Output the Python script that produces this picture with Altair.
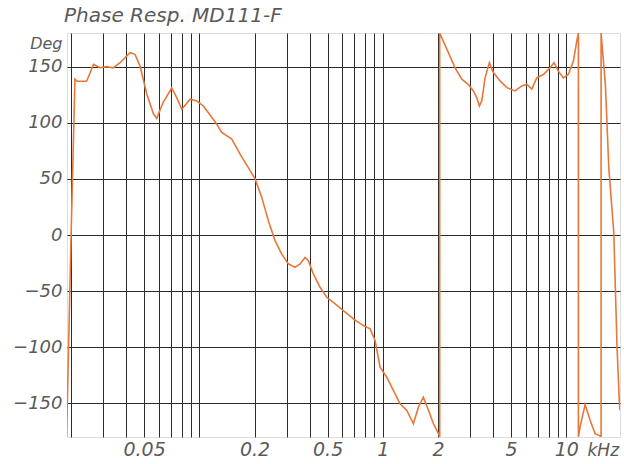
import altair as alt
import pandas as pd

# Phase response of the MD111-F, frequency in kHz, phase in degrees.
# Points are listed in drawing order so the ±180° wraps draw as vertical jumps.
freq_khz = [
    0.0189, 0.0200, 0.0210, 0.0216, 0.0243, 0.0265, 0.0288, 0.0313, 0.0339, 0.0370,
    0.0419, 0.0446, 0.0475, 0.0517, 0.0562, 0.0586, 0.0634, 0.0707, 0.0753, 0.0802,
    0.0890, 0.0968, 0.1052, 0.1218, 0.1325, 0.1502, 0.1667, 0.1849, 0.2012, 0.2189,
    0.2377, 0.2585, 0.2812, 0.3055, 0.3323, 0.3538, 0.3767, 0.3926, 0.4181, 0.4548,
    0.4947, 0.5373, 0.6093, 0.6909, 0.7834, 0.8520, 0.9071, 0.9654, 1.050, 1.141,
    1.241, 1.350, 1.467, 1.562, 1.662, 1.770, 1.885, 2.007, 2.040, 2.040,
    2.275, 2.475, 2.692, 2.924, 3.113, 3.249, 3.357, 3.459, 3.606, 3.806,
    4.002, 4.352, 4.734, 5.254, 5.714, 6.084, 6.478, 6.898, 7.494, 8.152,
    8.570, 9.045, 9.632, 10.25, 10.92, 11.40, 11.63, 11.63, 11.88, 12.65,
    13.47, 14.33, 15.27, 15.46, 15.46, 16.32, 17.03, 18.13, 18.89, 19.45,
    19.60,
]
phase_deg = [
    -180, 0, 139, 137, 137, 152, 149, 150, 149, 153.5,
    162.5, 161, 150.6, 125.7, 108, 104, 118, 131, 122.4, 112,
    121, 119.5, 115, 101, 91.3, 85.4, 72, 60, 50, 33.5,
    12.7, -5, -17, -25.8, -28.8, -25.8, -20, -22.9, -34.7, -46.6,
    -55.5, -60, -67.3, -74.7, -80.7, -83.6, -94, -117.8, -126.7, -138.5,
    -150.4, -156.3, -168, -153.4, -144.5, -156, -168, -177, -180, 180,
    162.5, 149, 138.8, 134, 128.4, 122.4, 115, 119.5, 140, 153.6,
    144.7, 137.3, 131.3, 128.4, 132.8, 134.3, 130, 140, 143, 149,
    153.6, 146, 140, 143, 155, 173, 180, -180, -171, -151,
    -165, -177, -179, -180, 180, 134, 60, 2, -100, -150,
    -156,
]

# Grid at every 1..9 step of each decade; labels only on a few of them.
grid_khz = [round(m * 10.0 ** e, 6) for e in range(-2, 2) for m in range(1, 10)]
grid_khz = [v for v in grid_khz if 0.019 <= v <= 19.6]
labelled_khz = [0.05, 0.2, 0.5, 1, 2, 5, 10]
deg_ticks = [-150, -100, -50, 0, 50, 100, 150]

df = pd.DataFrame({"f": freq_khz, "phase": phase_deg, "i": range(len(freq_khz))})

FONT = "DejaVu Sans"
TEXT = "#5a5a5a"
GRID = "#2b2b2b"

label_test = "indexof(" + str(labelled_khz) + ", datum.value) >= 0 ? format(datum.value, '~g') : ''"

chart = (
    alt.Chart(df)
    .mark_line(color="#e8773a", strokeWidth=1.6, clip=True)
    .encode(
        x=alt.X(
            "f:Q",
            scale=alt.Scale(type="log", domain=[0.019, 19.6], nice=False),
            axis=alt.Axis(
                values=grid_khz,
                labelExpr=label_test,
                labelOverlap=False,
                labelFlush=False,
                ticks=False,
                domain=False,
                grid=True,
                gridColor=GRID,
                gridWidth=1,
                gridOpacity=1,
                labelFont=FONT,
                labelFontSize=19,
                labelFontStyle="italic",
                labelColor=TEXT,
                labelPadding=3,
                title="kHz",
                titleFont=FONT,
                titleFontSize=17,
                titleFontStyle="italic",
                titleFontWeight="normal",
                titleColor=TEXT,
                titleAlign="left",
                titleBaseline="alphabetic",
                titleX=520,
                titleY=18,
            ),
        ),
        y=alt.Y(
            "phase:Q",
            scale=alt.Scale(domain=[-180, 180], nice=False, zero=False),
            axis=alt.Axis(
                values=deg_ticks,
                ticks=False,
                domain=False,
                grid=True,
                gridColor=GRID,
                gridWidth=1,
                gridOpacity=1,
                labelFont=FONT,
                labelFontSize=18,
                labelFontStyle="italic",
                labelColor=TEXT,
                labelPadding=5,
                title="Deg",
                titleFont=FONT,
                titleFontSize=16,
                titleFontStyle="italic",
                titleFontWeight="normal",
                titleColor=TEXT,
                titleAngle=0,
                titleAlign="right",
                titleBaseline="alphabetic",
                titleX=-5,
                titleY=15,
            ),
        ),
        order="i:Q",
    )
    .properties(
        width=553,
        height=404,
        title=alt.TitleParams(
            "Phase Resp. MD111-F",
            anchor="start",
            frame="group",
            font=FONT,
            fontSize=20,
            fontStyle="italic",
            fontWeight="normal",
            color=TEXT,
            offset=7,
            dx=-3,
        ),
        autosize=alt.AutoSizeParams(type="none"),
        padding={"left": 67, "top": 33, "right": 4, "bottom": 27},
    )
    .configure_view(stroke="#222222", strokeWidth=1.2)
    .configure(background="white")
)

chart.save("out.html", embed_options={"renderer": "svg", "actions": False})
